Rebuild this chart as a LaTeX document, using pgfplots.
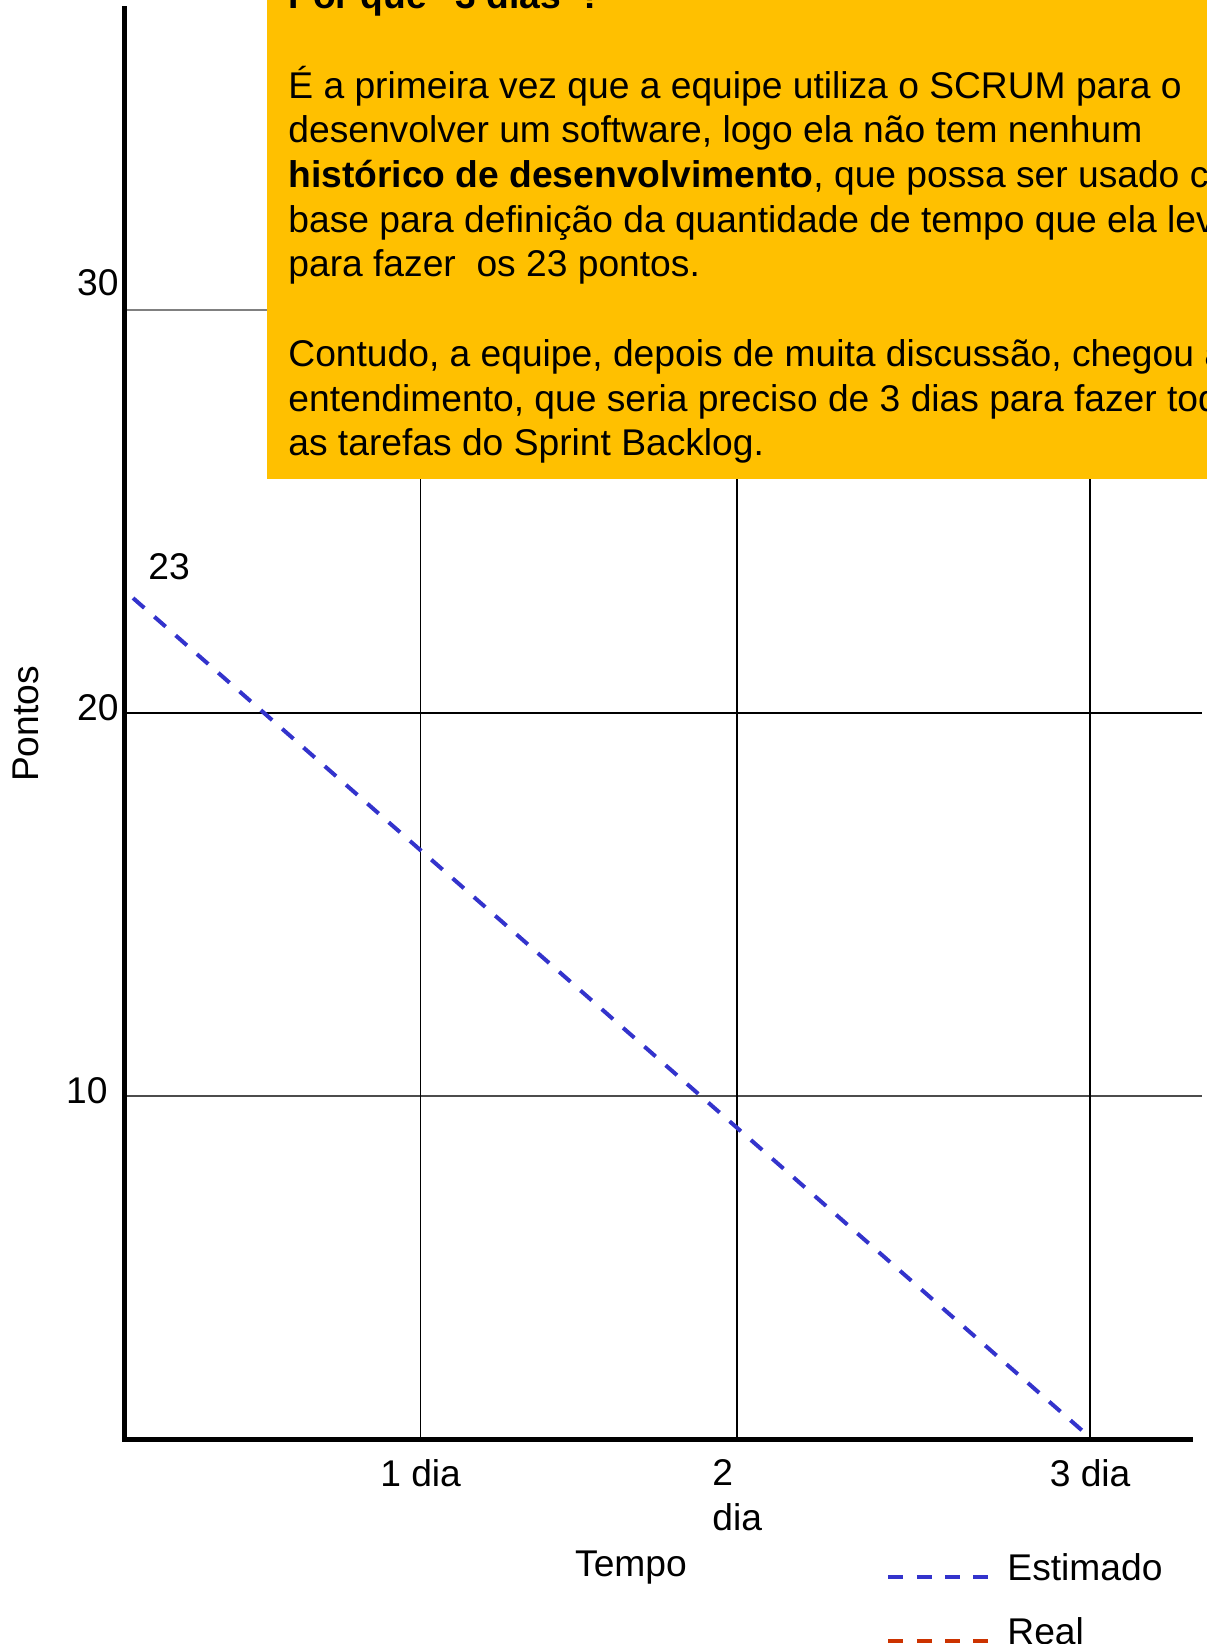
\documentclass[border=0pt]{standalone}
\usepackage{pgfplots}
\pgfplotsset{compat=1.18}
\usepackage{fontspec}
\setmainfont{Liberation Sans}
\definecolor{boxc}{HTML}{FFC000}
\definecolor{estc}{HTML}{3333CC}
\definecolor{realc}{HTML}{CC3300}
\newcommand{\cf}{\fontsize{18.6}{22.5}\selectfont}
\begin{document}
\begin{tikzpicture}
\begin{axis}[
  at={(62.5pt,102.5pt)}, anchor=south west,
  scale only axis, width=532.5pt, height=715pt,
  xmin=0, xmax=3.3105, ymin=1.044, ymax=38.38,
  axis x line=bottom, axis y line=left,
  axis line style={-, line width=2.5pt, line cap=rect},
  major tick length=0pt,
  xtick={0.919,1.903,3}, xticklabels={1 dia,{2\\dia},3 dia},
  ytick={10,20}, yticklabels={{10\rule{5.5pt}{0pt}},20},
  extra y ticks={30.52}, extra y tick labels={30},
  extra y tick style={yticklabel style={yshift=11pt}},
  /pgf/number format/assume math mode=true,
  tick label style={font=\cf},
  xticklabel style={align=left, anchor=north, inner sep=0pt, yshift=-10pt},
  yticklabel style={anchor=east, inner sep=0pt, xshift=-3pt, yshift=2.5pt},
  xlabel={Tempo}, ylabel={Pontos},
  label style={font=\cf},
  xlabel style={at={(axis description cs:0.4751,0)}, anchor=center, yshift=-64.5pt},
  ylabel style={at={(axis description cs:-0.093,0.5)}, anchor=center, rotate=0},
  clip=false, axis on top,
  legend cell align=left,
  legend style={at={(axis description cs:0.7146,-0.0797)}, anchor=north west,
    draw=none, fill=none, inner sep=0pt, nodes={inner sep=0pt},
    row sep=17pt, column sep=8.5pt, font=\cf},
  legend image code/.code={\draw[#1] (0pt,-4.3pt) -- (50pt,-4.3pt);},
]
% grid lines
\draw[gray, line width=0.75pt] (axis cs:0,30.52) -- (axis cs:3.348,30.52);
\draw[black, line width=0.75pt] (axis cs:0,20) -- (axis cs:3.348,20);
\draw[black!70, line width=0.75pt] (axis cs:0,10) -- (axis cs:3.348,10);
\draw[black, line width=0.75pt] (axis cs:0.919,1.044) -- (axis cs:0.919,38.38);
\draw[black, line width=0.75pt] (axis cs:1.903,1.044) -- (axis cs:1.903,38.38);
\draw[black, line width=0.75pt] (axis cs:3,1.044) -- (axis cs:3,38.38);
\addplot[estc, line width=2pt, dash pattern=on 7.5pt off 6.67pt] coordinates {(0.025,23) (2.984,1.2)};
\addlegendentry{Estimado}
\addlegendimage{realc, line width=2pt, dash pattern=on 7.5pt off 6.67pt}
\addlegendentry{Real}
\node[font=\cf] at (axis cs:0.137,23.81) {23};
\end{axis}
\fill[boxc] (133.5pt,582.5pt) rectangle (720pt,900pt);
\begin{scope}[every node/.style={anchor=base west, inner sep=0pt, font=\cf}]
\node at (144pt,817.6pt) {\textbf{Por que “3 dias”?}};
\node at (144pt,772.9pt) {É a primeira vez que a equipe utiliza o SCRUM para o};
\node at (144pt,750.55pt) {desenvolver um software, logo ela não tem nenhum};
\node at (144pt,728.2pt) {\textbf{histórico de desenvolvimento}, que possa ser usado como};
\node at (144pt,705.85pt) {base para definição da quantidade de tempo que ela levará};
\node at (144pt,683.5pt) {para fazer\ \ os 23 pontos.};
\node at (144pt,638.8pt) {Contudo, a equipe, depois de muita discussão, chegou ao};
\node at (144pt,616.45pt) {entendimento, que seria preciso de 3 dias para fazer todas};
\node at (144pt,594.1pt) {as tarefas do Sprint Backlog.};
\end{scope}
\pgfresetboundingbox
\path[use as bounding box] (0,0) rectangle (603pt,822pt);
\end{tikzpicture}
\end{document}
